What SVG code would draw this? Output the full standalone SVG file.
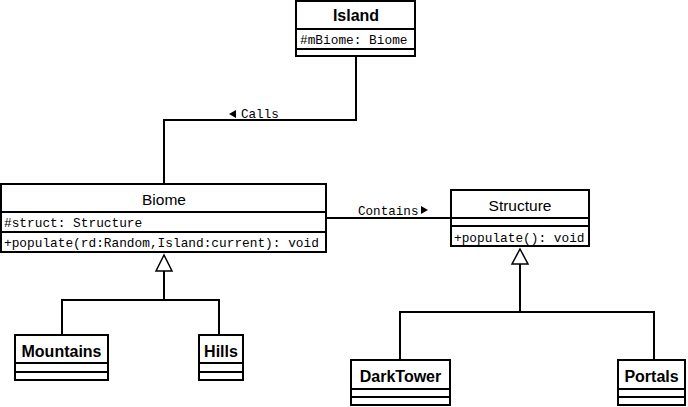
<svg xmlns="http://www.w3.org/2000/svg" width="688" height="407" viewBox="0 0 688 407">
<style>
.box{fill:#fff;stroke:#000;stroke-width:2}
.ln{fill:none;stroke:#000;stroke-width:2}
.tb{font-family:"Liberation Sans",Arial,sans-serif;font-weight:bold;font-size:16px;fill:#000;text-anchor:middle}
.tr{font-family:"Liberation Sans",Arial,sans-serif;font-size:15.5px;fill:#000;text-anchor:middle}
.mono{font-family:"Liberation Mono","Courier New",monospace;font-size:12.8px;fill:#000}
.lbl{font-family:"Liberation Mono","Courier New",monospace;font-size:12.6px;fill:#000}
.tri{fill:#fff;stroke:#000;stroke-width:1.5}
</style>
<rect width="688" height="407" fill="#fff"/>
<g id="connectors">
<polyline class="ln" points="356,56 356,120 164,120 164,184"/>
<line class="ln" x1="326" y1="218" x2="451" y2="218"/>
<polyline class="ln" points="164,271 164,300"/>
<polyline class="ln" points="62,335 62,300 219,300 219,335"/>
<polygon class="tri" points="164,255 156,271 172,271"/>
<polyline class="ln" points="520,264 520,312"/>
<polyline class="ln" points="400,360 400,312 654,312 654,360"/>
<polygon class="tri" points="520,249 512,264 528,264"/>
<text class="lbl" x="241" y="118">Calls</text>
<polygon points="229,114 236,110 236,118" fill="#000"/>
<text class="lbl" x="358" y="215">Contains</text>
<polygon points="428,210 421,206 421,214" fill="#000"/>
</g>
<g id="island">
<rect class="box" x="296" y="1" width="119" height="55"/>
<line class="ln" x1="296" y1="29" x2="415" y2="29"/>
<line class="ln" x1="296" y1="49" x2="415" y2="49"/>
<text class="tb" x="356" y="21">Island</text>
<text class="mono" x="300" y="44">#mBiome: Biome</text>
</g>
<g id="biome">
<rect class="box" x="1" y="184" width="325" height="68"/>
<line class="ln" x1="1" y1="212" x2="326" y2="212"/>
<line class="ln" x1="1" y1="232" x2="326" y2="232"/>
<text class="tr" x="164" y="205">Biome</text>
<text class="mono" x="4" y="227">#struct: Structure</text>
<text class="mono" x="4" y="247">+populate(rd:Random,Island:current): void</text>
</g>
<g id="structure">
<rect class="box" x="451" y="190" width="138" height="56"/>
<line class="ln" x1="451" y1="218" x2="589" y2="218"/>
<line class="ln" x1="451" y1="226" x2="589" y2="226"/>
<text class="tr" x="520" y="211">Structure</text>
<text class="mono" x="454" y="242">+populate(): void</text>
</g>
<g id="mountains">
<rect class="box" x="15" y="335" width="93" height="45"/>
<line class="ln" x1="15" y1="363" x2="108" y2="363"/>
<line class="ln" x1="15" y1="372" x2="108" y2="372"/>
<text class="tb" x="61.5" y="357">Mountains</text>
</g>
<g id="hills">
<rect class="box" x="199" y="335" width="44" height="45"/>
<line class="ln" x1="199" y1="363" x2="243" y2="363"/>
<line class="ln" x1="199" y1="372" x2="243" y2="372"/>
<text class="tb" x="221" y="357">Hills</text>
</g>
<g id="darktower">
<rect class="box" x="351" y="360" width="99" height="45"/>
<line class="ln" x1="351" y1="389" x2="450" y2="389"/>
<line class="ln" x1="351" y1="397" x2="450" y2="397"/>
<text class="tb" x="400.5" y="382">DarkTower</text>
</g>
<g id="portals">
<rect class="box" x="618" y="360" width="67" height="45"/>
<line class="ln" x1="618" y1="389" x2="685" y2="389"/>
<line class="ln" x1="618" y1="397" x2="685" y2="397"/>
<text class="tb" x="651.5" y="382">Portals</text>
</g>
</svg>
